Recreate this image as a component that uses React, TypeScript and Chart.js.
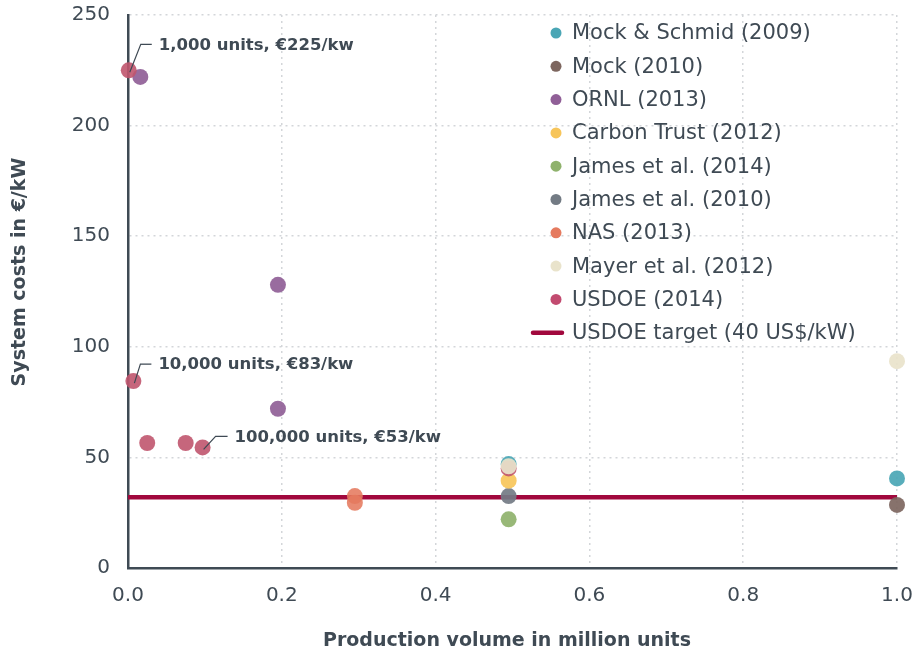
import React, { useEffect, useRef } from "react";
import { Chart, registerables } from "chart.js";

Chart.register(...registerables);

// ---- data ----
const seriesNames = [
  "Mock & Schmid (2009)",
  "Mock (2010)",
  "ORNL (2013)",
  "Carbon Trust (2012)",
  "James et al. (2014)",
  "James et al. (2010)",
  "NAS (2013)",
  "Mayer et al. (2012)",
  "USDOE (2014)",
];
const targetName = "USDOE target (40 US$/kW)";
const xTitle = "Production volume in million units";
const yTitle = "System costs in €/kW";

const mockSchmidX = [0.495, 1.0];
const mockSchmidY = [47, 40.5];
const mockX = [1.0];
const mockY = [28.5];
const ornlX = [0.016, 0.195, 0.195];
const ornlY = [222, 128, 72];
const carbonTrustX = [0.495];
const carbonTrustY = [39.5];
const james2014X = [0.495];
const james2014Y = [22];
const james2010X = [0.495];
const james2010Y = [32.5];
const nasX = [0.295, 0.295];
const nasY = [32.5, 29.5];
const mayerX = [0.495, 1.0];
const mayerY = [46, 93.5];
const usdoeX = [0.001, 0.007, 0.025, 0.075, 0.097, 0.495];
const usdoeY = [225, 84.5, 56.5, 56.5, 54.5, 45];
const targetX = [0, 1.0];
const targetY = [32, 32];

const xTicks = [0, 0.2, 0.4, 0.6, 0.8, 1.0];
const yTicks = [0, 50, 100, 150, 200, 250];

const annotationLabels = ["1,000 units, €225/kw", "10,000 units, €83/kw", "100,000 units, €53/kw"];
const annotationX = [0.001, 0.007, 0.097];
const annotationY = [225, 84.5, 54.5];

// ---- styles ----
const colors = [
  "rgba(74,166,181,0.92)",
  "rgba(125,102,95,0.92)",
  "rgba(144,95,151,0.92)",
  "rgba(247,197,90,0.92)",
  "rgba(143,178,108,0.92)",
  "rgba(115,123,132,0.92)",
  "rgba(229,122,95,0.88)",
  "rgba(233,227,203,0.92)",
  "rgba(192,85,110,0.9)",
];
const legendColors = ["#4aa6b5", "#7d665f", "#905f97", "#f7c55a", "#8fb26c", "#737b84", "#e57a5f", "#e9e3cb", "#c24b70"];
const drawOrder = [2, 3, 3, 3, 3, 3, 3, 0, 1];
const targetColor = "#a1083d";
const textColor = "#3f4a54";
const gridColor = "#d3d6d9";
const FONT = "'DejaVu Sans', sans-serif";

const xs = [mockSchmidX, mockX, ornlX, carbonTrustX, james2014X, james2010X, nasX, mayerX, usdoeX];
const ys = [mockSchmidY, mockY, ornlY, carbonTrustY, james2014Y, james2010Y, nasY, mayerY, usdoeY];

const overlayPlugin = {
  id: "overlay",
  afterDraw(chart: any) {
    const ctx = chart.ctx;
    const sx = chart.scales.x;
    const sy = chart.scales.y;
    ctx.save();
    // annotations
    const offs = [
      { dx: 12, dy: -26, len: 11 },
      { dx: 7, dy: -17, len: 11 },
      { dx: 13, dy: -11, len: 12 },
    ];
    ctx.strokeStyle = textColor;
    ctx.lineWidth = 1.2;
    ctx.fillStyle = textColor;
    ctx.font = `bold 16.5px ${FONT}`;
    ctx.textBaseline = "middle";
    ctx.textAlign = "left";
    annotationLabels.forEach((lab, i) => {
      const px = sx.getPixelForValue(annotationX[i]);
      const py = sy.getPixelForValue(annotationY[i]);
      const o = offs[i];
      ctx.beginPath();
      ctx.moveTo(px + 1, py + 2);
      ctx.lineTo(px + o.dx, py + o.dy);
      ctx.lineTo(px + o.dx + o.len, py + o.dy);
      ctx.stroke();
      ctx.fillText(lab, px + o.dx + o.len + 7, py + o.dy + 1);
    });
    // axis titles
    ctx.font = `bold 19px ${FONT}`;
    ctx.textAlign = "center";
    ctx.fillText(xTitle, 507, 641);
    ctx.save();
    ctx.translate(20, 272);
    ctx.rotate(-Math.PI / 2);
    ctx.fillText(yTitle, 0, 0);
    ctx.restore();
    // legend
    ctx.textAlign = "left";
    const lx = 556;
    const ly0 = 33;
    const step = 33.3;
    ctx.font = `21px ${FONT}`;
    seriesNames.forEach((name, i) => {
      const y = ly0 + i * step;
      ctx.beginPath();
      ctx.fillStyle = legendColors[i];
      ctx.arc(lx, y, 5.5, 0, Math.PI * 2);
      ctx.fill();
      ctx.fillStyle = textColor;
      ctx.fillText(name, 572, y + 1);
    });
    const yt = ly0 + seriesNames.length * step;
    ctx.strokeStyle = targetColor;
    ctx.lineWidth = 4.5;
    ctx.lineCap = "round";
    ctx.beginPath();
    ctx.moveTo(533, yt);
    ctx.lineTo(562, yt);
    ctx.stroke();
    ctx.fillStyle = textColor;
    ctx.fillText(targetName, 572, yt + 1);
    ctx.restore();
  },
};

export default function App() {
  const ref = useRef<HTMLCanvasElement>(null);
  useEffect(() => {
    if (!ref.current) return;
    const datasets: any[] = seriesNames.map((name, i) => ({
      type: "scatter",
      label: name,
      data: xs[i].map((x, j) => ({ x, y: ys[i][j] })),
      backgroundColor: colors[i],
      borderWidth: 0,
      pointRadius: 8,
      order: drawOrder[i],
      clip: false,
    }));
    datasets.push({
      type: "line",
      label: targetName,
      data: targetX.map((x, j) => ({ x, y: targetY[j] })),
      borderColor: targetColor,
      borderWidth: 4.5,
      pointRadius: 0,
      order: 10,
      clip: false,
    });
    const chart = new Chart(ref.current, {
      type: "scatter",
      data: { datasets },
      plugins: [overlayPlugin],
      options: {
        animation: false,
        responsive: false,
        layout: { padding: { top: 15, right: 24, left: 0, bottom: 0 } },
        plugins: { legend: { display: false }, tooltip: { enabled: false } },
        scales: {
          x: {
            type: "linear",
            min: 0,
            max: 1,
            afterBuildTicks: (s: any) => {
              s.ticks = xTicks.map((v) => ({ value: v }));
            },
            afterFit: (s: any) => {
              s.height = 83;
              s.paddingLeft = 0;
              s.paddingRight = 0;
            },
            ticks: {
              color: textColor,
              font: { family: FONT, size: 20 },
              padding: 16,
              callback: (v: any) => Number(v).toFixed(1),
            },
            grid: {
              color: gridColor,
              lineWidth: 1.5,
              drawTicks: false,
            },
            border: { display: true, color: textColor, width: 2.5, dash: [2, 4] },
            title: { display: false },
          },
          y: {
            type: "linear",
            min: 0,
            max: 250,
            afterBuildTicks: (s: any) => {
              s.ticks = yTicks.map((v) => ({ value: v }));
            },
            afterFit: (s: any) => {
              s.width = 128;
              s.paddingTop = 0;
              s.paddingBottom = 0;
            },
            ticks: {
              color: textColor,
              font: { family: FONT, size: 20 },
              padding: 18,
            },
            grid: {
              color: gridColor,
              lineWidth: 1.5,
              drawTicks: false,
            },
            border: { display: true, color: textColor, width: 2.5, dash: [2, 4] },
            title: { display: false },
          },
        },
      } as any,
    });
    return () => chart.destroy();
  }, []);
  return (
    <div style={{ position: "fixed", left: 0, top: 0, width: 921, height: 651, background: "#fff" }}>
      <canvas ref={ref} width={921} height={651} />
    </div>
  );
}
